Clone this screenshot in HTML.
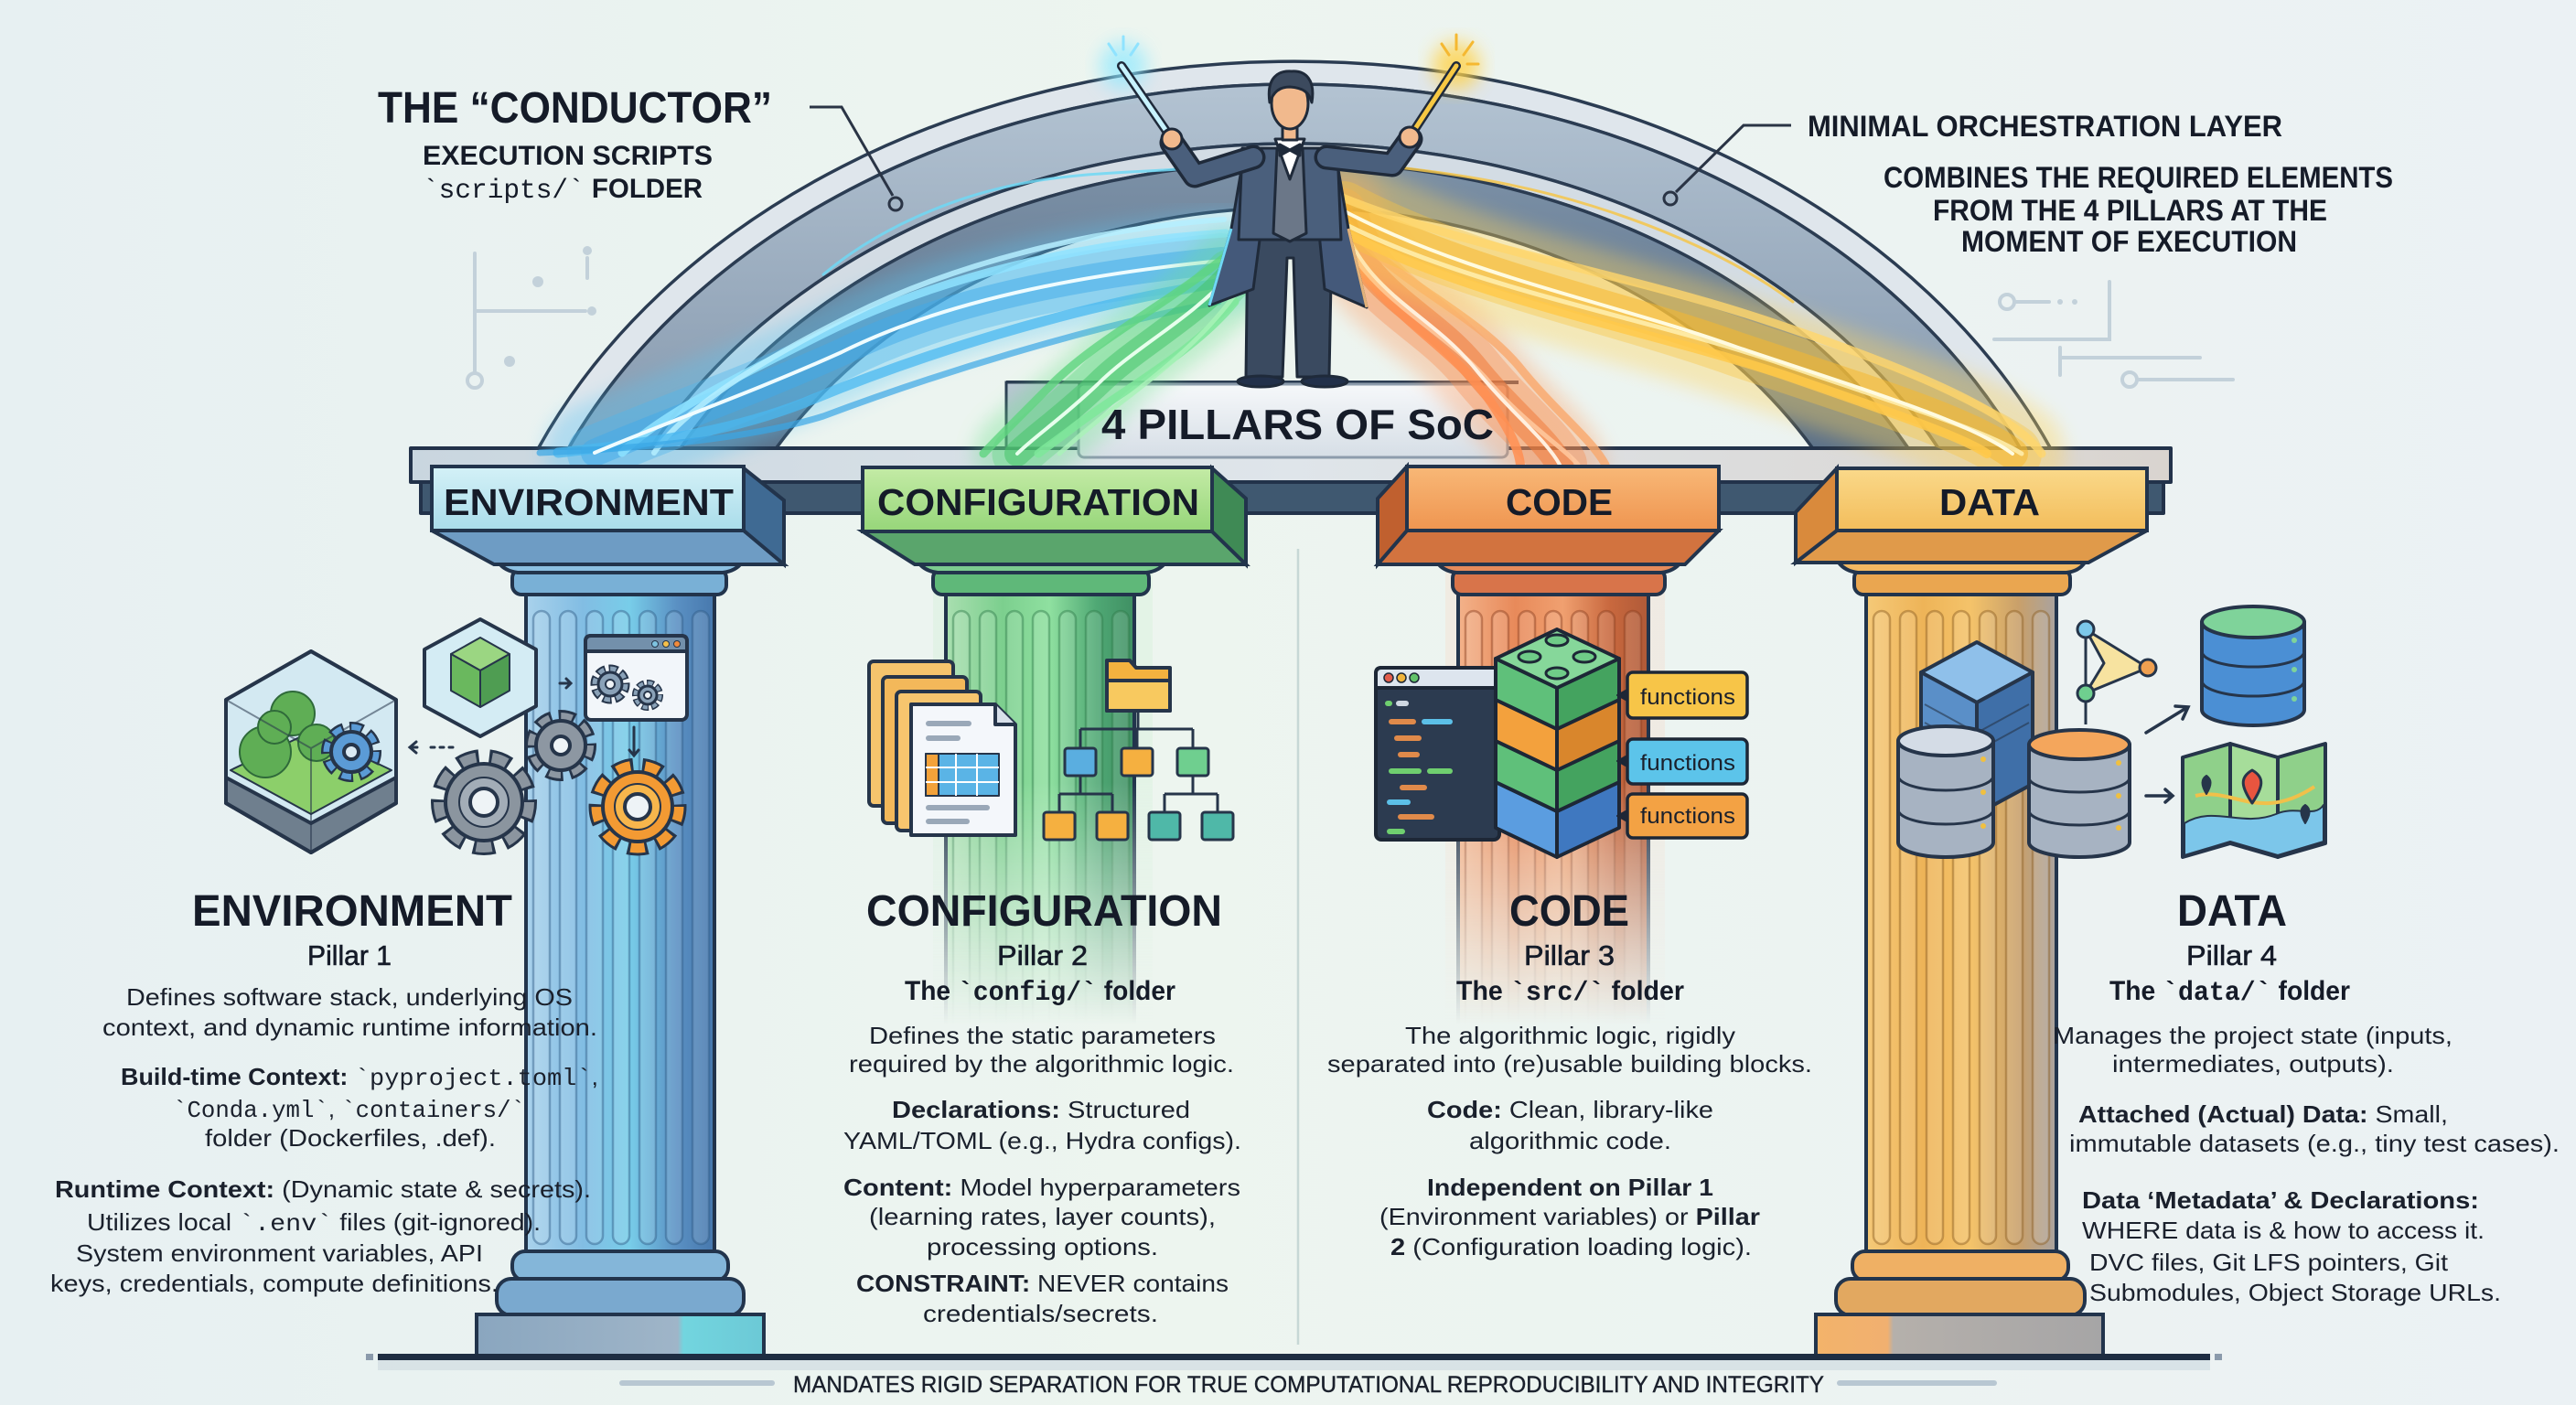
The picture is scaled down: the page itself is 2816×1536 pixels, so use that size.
<!DOCTYPE html>
<html><head><meta charset="utf-8"><style>
html,body{margin:0;padding:0;background:#ebf3f2}
svg{display:block}
.h{font-family:"Liberation Sans",sans-serif;font-weight:bold;fill:#151b28}
.b{font-family:"Liberation Sans",sans-serif;font-size:26px;fill:#1a202c}
.p{font-family:"Liberation Sans",sans-serif;font-size:31px;fill:#151b28;stroke:#151b28;stroke-width:.6}
.m{font-family:"Liberation Mono",monospace}
.bd{font-weight:bold}
</style></head><body>
<svg width="2816" height="1536" viewBox="0 0 2816 1536" xmlns="http://www.w3.org/2000/svg">
<defs>
<linearGradient id="bg" x1="0" y1="0" x2="1" y2="0"><stop offset="0" stop-color="#e7f0f2"/><stop offset=".45" stop-color="#edf5ef"/><stop offset="1" stop-color="#ebf1f4"/></linearGradient>
<linearGradient id="gEnv" x1="0" y1="0" x2="1" y2="0"><stop offset="0" stop-color="#a9d2ec"/><stop offset=".3" stop-color="#82bde3"/><stop offset=".55" stop-color="#78cde9"/><stop offset=".8" stop-color="#5a90c3"/><stop offset="1" stop-color="#4778ad"/></linearGradient>
<linearGradient id="gCfg" x1="0" y1="0" x2="1" y2="0"><stop offset="0" stop-color="#a9dfb0"/><stop offset=".3" stop-color="#7ccf8e"/><stop offset=".55" stop-color="#8fe0a0"/><stop offset=".8" stop-color="#4fa874"/><stop offset="1" stop-color="#3f8f63"/></linearGradient>
<linearGradient id="gCode" x1="0" y1="0" x2="1" y2="0"><stop offset="0" stop-color="#f3b28a"/><stop offset=".3" stop-color="#e88a5a"/><stop offset=".55" stop-color="#f0a070"/><stop offset=".8" stop-color="#c8683e"/><stop offset="1" stop-color="#b05a38"/></linearGradient>
<linearGradient id="gData" x1="0" y1="0" x2="1" y2="0"><stop offset="0" stop-color="#f5c978"/><stop offset=".3" stop-color="#eeb458"/><stop offset=".55" stop-color="#f4c36a"/><stop offset=".8" stop-color="#c9a06a"/><stop offset="1" stop-color="#a9a3a0"/></linearGradient>
<linearGradient id="vf" x1="0" y1="640" x2="0" y2="1120" gradientUnits="userSpaceOnUse"><stop offset="0" stop-color="#fff"/><stop offset=".45" stop-color="#fff"/><stop offset=".8" stop-color="#fff" stop-opacity=".35"/><stop offset="1" stop-color="#fff" stop-opacity="0"/></linearGradient>
<mask id="fade" maskUnits="userSpaceOnUse" x="0" y="0" width="2816" height="1536"><rect x="0" y="0" width="2816" height="1536" fill="url(#vf)"/></mask>
<linearGradient id="band2" x1="0" y1="0" x2="0" y2="1"><stop offset="0" stop-color="#b3c3d2"/><stop offset="1" stop-color="#8699ae"/></linearGradient>
<linearGradient id="band4" x1="0" y1="0" x2="0" y2="1"><stop offset="0" stop-color="#7b90a6"/><stop offset="1" stop-color="#5c7189"/></linearGradient>
<linearGradient id="beamTop" x1="0" y1="0" x2="1" y2="0"><stop offset="0" stop-color="#c9d6df"/><stop offset=".5" stop-color="#dfe5ea"/><stop offset="1" stop-color="#d9d4cf"/></linearGradient>
<linearGradient id="banner" x1="0" y1="0" x2="0" y2="1"><stop offset="0" stop-color="#f6f8fa"/><stop offset="1" stop-color="#d6dee6"/></linearGradient>
<linearGradient id="lEnv" x1="0" y1="0" x2="0" y2="1"><stop offset="0" stop-color="#d4f1f7"/><stop offset="1" stop-color="#a9dcea"/></linearGradient>
<linearGradient id="lCfg" x1="0" y1="0" x2="0" y2="1"><stop offset="0" stop-color="#c4eba6"/><stop offset="1" stop-color="#96d679"/></linearGradient>
<linearGradient id="lCode" x1="0" y1="0" x2="0" y2="1"><stop offset="0" stop-color="#f8b877"/><stop offset="1" stop-color="#ef9550"/></linearGradient>
<linearGradient id="lData" x1="0" y1="0" x2="0" y2="1"><stop offset="0" stop-color="#fad98a"/><stop offset="1" stop-color="#f3bd5b"/></linearGradient>
<linearGradient id="plEnv" x1="0" y1="0" x2="1" y2="0"><stop offset="0" stop-color="#8aa6bf"/><stop offset=".7" stop-color="#9fb5c8"/><stop offset=".72" stop-color="#72d5df"/><stop offset="1" stop-color="#6cc9d6"/></linearGradient>
<linearGradient id="plData" x1="0" y1="0" x2="1" y2="0"><stop offset="0" stop-color="#f3b36a"/><stop offset=".25" stop-color="#f1b070"/><stop offset=".27" stop-color="#b5b0ab"/><stop offset="1" stop-color="#a6a5a6"/></linearGradient>
<filter id="bl" x="-30%" y="-30%" width="160%" height="160%"><feGaussianBlur stdDeviation="10"/></filter>
<filter id="bs" x="-30%" y="-30%" width="160%" height="160%"><feGaussianBlur stdDeviation="3"/></filter>
</defs>

<rect width="2816" height="1536" fill="url(#bg)"/>

<!-- circuit decorations -->
<g stroke="#c3d1da" stroke-width="4" fill="none" stroke-linecap="round">
<path d="M519,277 V407"/><circle cx="519" cy="416" r="8"/><path d="M519,340 H640"/>
<path d="M642,282 V304"/>
<circle cx="2194" cy="330" r="8"/><path d="M2203,330 H2240"/>
<path d="M2306,308 V371 H2180"/><path d="M2252,391 H2405"/>
<circle cx="2328" cy="415" r="8"/><path d="M2337,415 H2441"/><path d="M2252,380 V410"/>
</g>
<g fill="#c3d1da"><circle cx="647" cy="340" r="5"/><circle cx="642" cy="274" r="5"/><circle cx="588" cy="308" r="6"/><circle cx="557" cy="395" r="6"/><circle cx="2252" cy="330" r="3"/><circle cx="2268" cy="330" r="3"/></g>

<!-- arch -->
<g stroke="#2b3c52" stroke-width="3.5" stroke-linejoin="round">
<path d="M588.5,490 A900,700 0 0 1 2241.5,490 L2208.4,490 A870,675 0 0 0 621.6,490 Z" fill="#dfe6ec"/>
<path d="M621.6,490 A870,675 0 0 1 2208.4,490 L2118.9,490 A790,610 0 0 0 711.1,490 Z" fill="url(#band2)"/>
<path d="M711.1,490 A790,610 0 0 1 2118.9,490 L2086,490 A760,590 0 0 0 744,490 Z" fill="#d3dce4"/>
<path d="M744,490 A760,590 0 0 1 2086,490 L1981.6,490 A660,540 0 0 0 848.4,490 Z" fill="url(#band4)"/>
</g>
<g fill="none" stroke-width="3" stroke-linecap="round">
<path d="M900,300 C960,250 1040,215 1120,200 C1200,185 1270,190 1330,180" stroke="#6fd8f5" opacity=".85"/>
<path d="M1500,180 C1580,188 1660,200 1740,225 C1820,250 1900,285 1960,330" stroke="#f5c54a" opacity=".85"/>
</g>

<!-- beam -->
<g stroke="#22324a" stroke-width="4" stroke-linejoin="round">
<rect x="449" y="490" width="1924" height="37" fill="url(#beamTop)"/>
<rect x="460" y="527" width="1905" height="34" fill="#3f5870"/>
</g>

<!-- banner -->
<path d="M1100,418 H1660" stroke="#2b3c52" stroke-width="4"/>
<rect x="1100" y="418" width="80" height="72" fill="#b9c6d2" stroke="#2b3c52" stroke-width="3"/>
<rect x="1179" y="420" width="469" height="80" rx="6" fill="url(#banner)" stroke="#8d9cac" stroke-width="3"/>

<!-- streams -->
<g fill="none" stroke-linecap="round">
<path d="M1335,285 C1180,300 1030,330 920,385 C820,430 720,465 650,495" stroke="#5cc8f5" stroke-width="110" opacity=".35" filter="url(#bl)"/>
<path d="M1335,285 C1180,300 1030,330 920,385 C820,430 720,465 650,495" stroke="#4fb6ee" stroke-width="60" opacity=".4"/>
<path d="M1335,285 C1180,300 1030,330 920,385 C820,430 720,465 650,495" stroke="#3fa9ea" stroke-width="30" opacity=".5"/>
<path d="M1340,255 C1180,265 1020,305 900,365 C800,415 720,455 680,495" stroke="#8fe3ff" stroke-width="9" opacity=".85"/>
<path d="M1338,240 C1190,250 1040,290 930,345 C830,395 750,445 715,495" stroke="#b5efff" stroke-width="6" opacity=".85"/>
<path d="M1330,310 C1170,335 1000,390 880,440 C790,475 700,485 610,495" stroke="#4ab8f0" stroke-width="11" opacity=".75"/>
<path d="M1332,330 C1180,360 1020,410 900,455 C820,480 700,490 590,495" stroke="#3aa7e6" stroke-width="7" opacity=".7"/>
<path d="M1335,285 C1180,300 1030,330 920,385 C820,430 720,465 650,495" stroke="#effcff" stroke-width="4"/>

<path d="M1345,300 C1300,350 1240,380 1200,420 C1160,458 1130,478 1112,496" stroke="#6be08a" stroke-width="95" opacity=".35" filter="url(#bl)"/>
<path d="M1345,300 C1300,350 1240,380 1200,420 C1160,458 1130,478 1112,496" stroke="#5ad47c" stroke-width="55" opacity=".35"/>
<path d="M1345,300 C1300,350 1240,380 1200,420 C1160,458 1130,478 1112,496" stroke="#45c46a" stroke-width="28" opacity=".55"/>
<path d="M1350,330 C1300,390 1220,430 1170,470 C1150,485 1140,492 1135,496" stroke="#7ee89a" stroke-width="9" opacity=".85"/>
<path d="M1340,280 C1280,330 1200,370 1150,420 C1110,460 1090,480 1075,496" stroke="#5fd47f" stroke-width="9" opacity=".8"/>
<path d="M1355,315 C1310,380 1250,420 1200,460 C1175,480 1165,490 1158,496" stroke="#a9f2b8" stroke-width="5" opacity=".85"/>
<path d="M1345,300 C1300,350 1240,380 1200,420 C1160,458 1130,478 1112,496" stroke="#e6ffec" stroke-width="4"/>

<path d="M1465,235 C1490,320 1560,340 1610,400 C1650,450 1690,480 1705,508" stroke="#ff9a5a" stroke-width="100" opacity=".35" filter="url(#bl)"/>
<path d="M1465,235 C1490,320 1560,340 1610,400 C1650,450 1690,480 1705,508" stroke="#f5894a" stroke-width="60" opacity=".35"/>
<path d="M1465,235 C1490,320 1560,340 1610,400 C1650,450 1690,480 1705,508" stroke="#f07a3a" stroke-width="30" opacity=".55"/>
<path d="M1470,270 C1520,350 1590,380 1630,440 C1650,470 1660,490 1662,508" stroke="#ff8f52" stroke-width="10" opacity=".85"/>
<path d="M1458,220 C1500,300 1600,330 1660,400 C1700,450 1740,480 1755,508" stroke="#f9a86b" stroke-width="9" opacity=".8"/>
<path d="M1462,250 C1500,330 1580,360 1630,420 C1670,465 1710,490 1725,508" stroke="#ffc9a0" stroke-width="5" opacity=".85"/>
<path d="M1465,235 C1490,320 1560,340 1610,400 C1650,450 1690,480 1705,508" stroke="#fff0e0" stroke-width="4"/>

<path d="M1468,230 C1600,300 1760,330 1900,380 C2050,430 2150,460 2200,496" stroke="#ffd45a" stroke-width="115" opacity=".38" filter="url(#bl)"/>
<path d="M1468,230 C1600,300 1760,330 1900,380 C2050,430 2150,460 2200,496" stroke="#f9c443" stroke-width="64" opacity=".38"/>
<path d="M1468,230 C1600,300 1760,330 1900,380 C2050,430 2150,460 2200,496" stroke="#f5b830" stroke-width="34" opacity=".55"/>
<path d="M1472,255 C1620,330 1800,360 1950,410 C2080,455 2150,480 2172,496" stroke="#ffc94a" stroke-width="10" opacity=".85"/>
<path d="M1465,215 C1600,270 1780,300 1930,350 C2080,400 2200,450 2232,496" stroke="#ffd66b" stroke-width="9" opacity=".8"/>
<path d="M1470,245 C1610,315 1790,345 1940,395 C2070,440 2170,470 2210,496" stroke="#fff0b0" stroke-width="5" opacity=".85"/>
<path d="M1468,230 C1600,300 1760,330 1900,380 C2050,430 2150,460 2200,496" stroke="#fffbe0" stroke-width="4"/>
</g>

<!-- banner text -->
<text class="h" x="1204" y="480" font-size="46" textLength="429" lengthAdjust="spacingAndGlyphs">4 PILLARS OF SoC</text>

<!-- wand glows -->
<circle cx="1228" cy="72" r="26" fill="#8fe9ff" opacity=".7" filter="url(#bl)"/>
<circle cx="1592" cy="72" r="26" fill="#ffd24a" opacity=".8" filter="url(#bl)"/>
<g stroke-width="3" stroke-linecap="round">
<path d="M1212,48 L1220,60 M1228,40 V54 M1244,48 L1236,60" stroke="#8fe3ff"/>
<path d="M1576,48 L1584,60 M1592,38 V54 M1610,46 L1600,60 M1616,70 H1604" stroke="#f5b830"/>
</g>

<!-- conductor -->
<g stroke="#1f2a3a" stroke-width="3" stroke-linejoin="round">
<line x1="1281" y1="152" x2="1226" y2="72" stroke="#1f2a3a" stroke-width="10" stroke-linecap="round"/>
<line x1="1281" y1="152" x2="1226" y2="72" stroke="#c8f3ff" stroke-width="5" stroke-linecap="round"/>
<line x1="1541" y1="150" x2="1592" y2="72" stroke="#1f2a3a" stroke-width="10" stroke-linecap="round"/>
<line x1="1541" y1="150" x2="1592" y2="72" stroke="#f7c843" stroke-width="5" stroke-linecap="round"/>
<path d="M1364,255 L1362,412 L1402,412 L1407,282 L1414,282 L1418,412 L1453,412 L1456,255 Z" fill="#3a4a60"/>
<ellipse cx="1378" cy="417" rx="25" ry="6" fill="#22304a"/>
<ellipse cx="1448" cy="417" rx="25" ry="6" fill="#22304a"/>
<path d="M1360,168 L1346,250 L1322,334 L1370,316 L1378,255 Z" fill="#44597a"/>
<path d="M1460,168 L1474,250 L1494,336 L1448,316 L1442,255 Z" fill="#44597a"/>
<path d="M1358,162 L1462,162 L1466,262 L1354,262 Z" fill="#4a5f7c"/>
<path d="M1396,162 L1424,162 L1428,255 L1410,264 L1392,255 Z" fill="#6b7788"/>
<path d="M1394,152 L1426,152 L1410,196 Z" fill="#ffffff"/>
<path d="M1399,158 L1410,164 L1421,158 L1421,170 L1410,164 L1399,170 Z" fill="#1f2a3a"/>
<path d="M1370,172 L1306,192 L1281,156" fill="none" stroke="#1f2a3a" stroke-width="27" stroke-linecap="round"/>
<path d="M1370,172 L1306,192 L1281,156" fill="none" stroke="#4a5f7c" stroke-width="20" stroke-linecap="round"/>
<path d="M1450,172 L1522,180 L1542,152" fill="none" stroke="#1f2a3a" stroke-width="27" stroke-linecap="round"/>
<path d="M1450,172 L1522,180 L1542,152" fill="none" stroke="#4a5f7c" stroke-width="20" stroke-linecap="round"/>
<circle cx="1281" cy="152" r="11" fill="#f1b98d"/>
<circle cx="1541" cy="150" r="11" fill="#f1b98d"/>
<rect x="1402" y="135" width="16" height="18" fill="#f1b98d"/>
<ellipse cx="1410" cy="113" rx="20" ry="28" fill="#f1b98d"/>
<path d="M1388,112 C1384,84 1398,77 1412,78 C1428,77 1438,88 1434,112 C1431,101 1425,96 1410,95 C1398,95 1392,101 1388,112 Z" fill="#3c4a5e"/>
</g>
<path d="M1346,250 L1322,334" stroke="#6fd8f5" stroke-width="3"/>
<path d="M1474,250 L1494,336" stroke="#e2b27a" stroke-width="3"/>

<!-- faint columns -->
<rect x="1020" y="560" width="240" height="560" fill="#d2f0d8" opacity=".35" mask="url(#fade)"/>
<rect x="1580" y="560" width="240" height="560" fill="#f7dccb" opacity=".35" mask="url(#fade)"/>
<path d="M1419,600 V1470" stroke="#c7d8d6" stroke-width="2.5"/>

<!-- ENV pillar -->
<g stroke="#22344c" stroke-width="4">
<rect x="575" y="640" width="206" height="735" fill="url(#gEnv)"/>
<g fill="#ffffff" fill-opacity=".12" stroke="#2e5a86" stroke-opacity=".45" stroke-width="2.5">
<rect x="583" y="668" width="18" height="692" rx="9"/><rect x="612" y="668" width="18" height="692" rx="9"/><rect x="641" y="668" width="18" height="692" rx="9"/><rect x="670" y="668" width="18" height="692" rx="9"/><rect x="699" y="668" width="18" height="692" rx="9"/><rect x="728" y="668" width="18" height="692" rx="9"/><rect x="757" y="668" width="18" height="692" rx="9"/>
</g>
<rect x="560" y="1368" width="236" height="32" rx="14" fill="#84b6d9"/>
<rect x="543" y="1398" width="270" height="40" rx="16" fill="#7aa9cf"/>
<rect x="521" y="1437" width="314" height="45" fill="url(#plEnv)"/>
<rect x="560" y="622" width="234" height="28" rx="10" fill="#79b0d6"/>
<path d="M538,588 C538,612 548,624 566,626 L790,626 C808,624 818,612 818,588 Z" fill="#8cc0e2"/>
<polygon points="472,580 813,580 857,617 540,617" fill="#6e9cc4"/>
<polygon points="813,512 857,547 857,617 813,580" fill="#3f6a93"/>
<rect x="472" y="510" width="341" height="70" fill="url(#lEnv)"/>
</g>
<text class="h" x="485" y="563" font-size="41" textLength="317" lengthAdjust="spacingAndGlyphs">ENVIRONMENT</text>

<!-- CONFIG pillar -->
<g stroke="#22344c" stroke-width="4">
<g mask="url(#fade)">
<rect x="1034" y="640" width="206" height="560" fill="url(#gCfg)"/>
<g fill="#ffffff" fill-opacity=".12" stroke="#2f7a4a" stroke-opacity=".45" stroke-width="2.5">
<rect x="1042" y="668" width="18" height="520" rx="9"/><rect x="1071" y="668" width="18" height="520" rx="9"/><rect x="1100" y="668" width="18" height="520" rx="9"/><rect x="1129" y="668" width="18" height="520" rx="9"/><rect x="1158" y="668" width="18" height="520" rx="9"/><rect x="1187" y="668" width="18" height="520" rx="9"/><rect x="1216" y="668" width="18" height="520" rx="9"/>
</g>
</g>
<rect x="1020" y="622" width="236" height="28" rx="10" fill="#5fb879"/>
<path d="M997,588 C997,612 1007,624 1025,626 L1253,626 C1271,624 1281,612 1281,588 Z" fill="#7ccc8f"/>
<polygon points="943,581 1325,581 1362,617 1000,617" fill="#5aa56c"/>
<polygon points="1325,512 1362,545 1362,617 1325,581" fill="#3f8a55"/>
<rect x="943" y="511" width="382" height="70" fill="url(#lCfg)"/>
</g>
<text class="h" x="959" y="563" font-size="41" textLength="352" lengthAdjust="spacingAndGlyphs">CONFIGURATION</text>

<!-- CODE pillar -->
<g stroke="#22344c" stroke-width="4">
<g mask="url(#fade)">
<rect x="1594" y="640" width="208" height="560" fill="url(#gCode)"/>
<g fill="#ffffff" fill-opacity=".12" stroke="#8a3f20" stroke-opacity=".45" stroke-width="2.5">
<rect x="1602" y="668" width="18" height="520" rx="9"/><rect x="1631" y="668" width="18" height="520" rx="9"/><rect x="1660" y="668" width="18" height="520" rx="9"/><rect x="1689" y="668" width="18" height="520" rx="9"/><rect x="1718" y="668" width="18" height="520" rx="9"/><rect x="1747" y="668" width="18" height="520" rx="9"/><rect x="1776" y="668" width="18" height="520" rx="9"/>
</g>
</g>
<rect x="1588" y="622" width="232" height="28" rx="10" fill="#d8744a"/>
<path d="M1564,588 C1564,612 1574,624 1592,626 L1816,626 C1834,624 1844,612 1844,588 Z" fill="#e58b5c"/>
<polygon points="1538,580 1879,580 1842,617 1506,617" fill="#d2733f"/>
<polygon points="1538,510 1506,545 1506,617 1538,580" fill="#c0602f"/>
<rect x="1538" y="510" width="341" height="70" fill="url(#lCode)"/>
</g>
<text class="h" x="1646" y="563" font-size="41" textLength="117" lengthAdjust="spacingAndGlyphs">CODE</text>

<!-- DATA pillar -->
<g stroke="#22344c" stroke-width="4">
<rect x="2040" y="640" width="208" height="735" fill="url(#gData)"/>
<g fill="#ffffff" fill-opacity=".12" stroke="#8a5a20" stroke-opacity=".45" stroke-width="2.5">
<rect x="2048" y="668" width="18" height="692" rx="9"/><rect x="2077" y="668" width="18" height="692" rx="9"/><rect x="2106" y="668" width="18" height="692" rx="9"/><rect x="2135" y="668" width="18" height="692" rx="9"/><rect x="2164" y="668" width="18" height="692" rx="9"/><rect x="2193" y="668" width="18" height="692" rx="9"/><rect x="2222" y="668" width="18" height="692" rx="9"/>
</g>
<rect x="2025" y="1368" width="236" height="32" rx="14" fill="#efb064"/>
<rect x="2007" y="1398" width="272" height="40" rx="16" fill="#e2a860"/>
<rect x="1985" y="1437" width="314" height="45" fill="url(#plData)"/>
<rect x="2027" y="622" width="236" height="28" rx="10" fill="#eaa650"/>
<path d="M2003,588 C2003,612 2013,624 2031,626 L2259,626 C2277,624 2285,612 2285,588 Z" fill="#f2b862"/>
<polygon points="2008,580 2347,580 2283,615 1963,615" fill="#e09a4a"/>
<polygon points="2008,512 1963,560 1963,615 2008,580" fill="#d98a3c"/>
<rect x="2008" y="512" width="339" height="68" fill="url(#lData)"/>
</g>
<text class="h" x="2120" y="563" font-size="41" textLength="110" lengthAdjust="spacingAndGlyphs">DATA</text>

<!-- ENV icons -->
<g stroke="#26354a" stroke-width="4" stroke-linejoin="round">
<polygon points="340,712 433,765 433,878 340,932 247,878 247,765" fill="#cfe8f2" fill-opacity=".85"/>
<polygon points="247,850 340,900 433,850 433,878 340,932 247,878" fill="#6f7f8e"/>
<polygon points="252,842 340,800 428,842 340,890" fill="#8ccf6a" stroke-width="2"/>
<g fill="#5fae55" stroke="#2f6a3a" stroke-width="2"><circle cx="290" cy="822" r="28"/><circle cx="320" cy="780" r="24"/><circle cx="346" cy="812" r="20"/><circle cx="300" cy="795" r="18"/></g>
<g stroke-width="2" opacity=".55" fill="none"><path d="M247,765 L340,818 L433,765 M340,818 V932"/></g>
<circle cx="384" cy="822" r="26" fill="none" stroke="#26354a" stroke-width="14" stroke-dasharray="14 6.42" stroke-dashoffset="2"/>
<circle cx="384" cy="822" r="26" fill="none" stroke="#5b9bd6" stroke-width="9" stroke-dasharray="10 10.42"/>
<circle cx="384" cy="822" r="22" fill="#5b9bd6"/><circle cx="384" cy="822" r="8" fill="#dbeaf4"/>
<polygon points="340,712 433,765 433,878 340,932 247,878 247,765" fill="none"/>

<polygon points="525,677 586,710 586,772 525,805 464,772 464,710" fill="#d4ecf4"/>
<polygon points="525,697 557,715 525,733 493,715" fill="#9bd682" stroke-width="2"/>
<polygon points="493,715 525,733 525,773 493,755" fill="#6ab85e" stroke-width="2"/>
<polygon points="525,733 557,715 557,755 525,773" fill="#4f9d52" stroke-width="2"/>

<rect x="640" y="695" width="111" height="92" rx="6" fill="#f2f6fa"/>
<path d="M640,712 V701 Q640,695 646,695 H745 Q751,695 751,701 V712 Z" fill="#7390ab"/>
<circle cx="716" cy="704" r="3.5" fill="#7fc3e0" stroke-width="1"/><circle cx="728" cy="704" r="3.5" fill="#f5c04a" stroke-width="1"/><circle cx="740" cy="704" r="3.5" fill="#f08a3c" stroke-width="1"/>
<circle cx="667" cy="748" r="16" fill="none" stroke="#26354a" stroke-width="11" stroke-dasharray="9 3.57" stroke-dashoffset="1.5"/>
<circle cx="667" cy="748" r="16" fill="none" stroke="#8aa2b8" stroke-width="7" stroke-dasharray="6 6.57"/>
<circle cx="667" cy="748" r="13" fill="#8aa2b8" stroke-width="3"/><circle cx="667" cy="748" r="5" fill="#eef3f6" stroke-width="2"/>
<circle cx="708" cy="760" r="12.5" fill="none" stroke="#26354a" stroke-width="9" stroke-dasharray="7 2.8" stroke-dashoffset="1.1"/>
<circle cx="708" cy="760" r="12.5" fill="none" stroke="#8aa2b8" stroke-width="6" stroke-dasharray="4.8 5"/>
<circle cx="708" cy="760" r="10" fill="#8aa2b8" stroke-width="3"/><circle cx="708" cy="760" r="4" fill="#eef3f6" stroke-width="2"/>

<circle cx="613" cy="815" r="31" fill="none" stroke="#26354a" stroke-width="16" stroke-dasharray="17 7.35" stroke-dashoffset="2.5"/>
<circle cx="613" cy="815" r="31" fill="none" stroke="#8d97a2" stroke-width="10" stroke-dasharray="12 12.35"/>
<circle cx="613" cy="815" r="27" fill="#8d97a2"/><circle cx="613" cy="815" r="10" fill="#eef3f6"/>

<circle cx="529" cy="877" r="48" fill="none" stroke="#26354a" stroke-width="20" stroke-dasharray="22.5 11" stroke-dashoffset="3"/>
<circle cx="529" cy="877" r="48" fill="none" stroke="#8b959f" stroke-width="14" stroke-dasharray="16.5 17"/>
<circle cx="529" cy="877" r="42" fill="#8b959f"/><circle cx="529" cy="877" r="27" fill="#a3adb7" stroke-width="2"/><circle cx="529" cy="877" r="15" fill="#eef3f6"/>

<circle cx="697" cy="882" r="44" fill="none" stroke="#26354a" stroke-width="19" stroke-dasharray="21 9.72" stroke-dashoffset="3"/>
<circle cx="697" cy="882" r="44" fill="none" stroke="#f39a33" stroke-width="13" stroke-dasharray="15 15.72"/>
<circle cx="697" cy="882" r="38" fill="#f39a33"/><circle cx="697" cy="882" r="25" fill="#f7b64c" stroke-width="2"/><circle cx="697" cy="882" r="14" fill="#eef3f6"/>
</g>
<g stroke="#26354a" stroke-width="3" fill="none" stroke-linecap="round">
<path d="M495,817 H470" stroke-dasharray="4 6"/><path d="M456,817 L448,817 M455,811 L448,817 L455,823"/>
<path d="M612,747 H624 M619,742 L624,747 L619,752"/>
<path d="M693,795 V826 M688,820 L693,826 L698,820"/>
</g>

<!-- CONFIG icons -->
<g stroke="#26354a" stroke-width="4" stroke-linejoin="round">
<rect x="950" y="723" width="92" height="158" rx="5" fill="#f5c46d"/>
<rect x="965" y="740" width="92" height="160" rx="5" fill="#f3b85a"/>
<rect x="980" y="756" width="92" height="152" rx="5" fill="#f7c56e"/>
<path d="M996,770 L1088,770 L1110,792 L1110,913 L996,913 Z" fill="#f4f7fb"/>
<path d="M1088,770 L1088,792 L1110,792" fill="#d8e0ea"/>
<g fill="#9aa8b8" stroke="none"><rect x="1012" y="788" width="50" height="6" rx="3"/><rect x="1012" y="804" width="38" height="6" rx="3"/><rect x="1012" y="880" width="70" height="6" rx="3"/><rect x="1012" y="895" width="48" height="6" rx="3"/></g>
<rect x="1012" y="824" width="80" height="46" fill="#5ab4e6" stroke-width="2"/>
<rect x="1012" y="824" width="14" height="46" fill="#f3a23a" stroke-width="2"/>
<path d="M1012,839 H1092 M1012,855 H1092 M1045,824 V870 M1068,824 V870" stroke="#ffffff" stroke-width="2"/>
<path d="M1210,722 L1235,722 L1242,730 L1279,730 L1279,777 L1210,777 Z" fill="#f3b23f"/>
<path d="M1210,744 L1279,744 L1279,777 L1210,777 Z" fill="#f8c95f"/>
</g>
<g stroke="#26354a" stroke-width="3" fill="none">
<path d="M1244,777 V797 M1181,797 H1304 M1181,797 V818 M1243,797 V818 M1304,797 V818"/>
<path d="M1181,848 V868 M1158,868 H1216 M1158,868 V888 M1216,868 V888"/>
<path d="M1304,848 V868 M1273,868 H1331 M1273,868 V888 M1331,868 V888"/>
</g>
<g stroke="#26354a" stroke-width="3">
<rect x="1164" y="818" width="34" height="30" rx="3" fill="#5aaee0"/><rect x="1226" y="818" width="34" height="30" rx="3" fill="#f5b040"/><rect x="1287" y="818" width="34" height="30" rx="3" fill="#6fcf8f"/>
<rect x="1141" y="888" width="34" height="30" rx="3" fill="#f5b040"/><rect x="1199" y="888" width="34" height="30" rx="3" fill="#f5b040"/>
<rect x="1256" y="888" width="34" height="30" rx="3" fill="#4fb8a8"/><rect x="1314" y="888" width="34" height="30" rx="3" fill="#4fb8a8"/>
</g>

<!-- CODE icons -->
<g stroke="#1d2736" stroke-width="4" stroke-linejoin="round">
<rect x="1504" y="730" width="135" height="188" rx="6" fill="#2c3b50"/>
<path d="M1504,752 V736 Q1504,730 1510,730 H1633 Q1639,730 1639,736 V752 Z" fill="#dde5ee"/>
<circle cx="1518" cy="741" r="5" fill="#e25c4b" stroke-width="1.5"/><circle cx="1532" cy="741" r="5" fill="#f0b43c" stroke-width="1.5"/><circle cx="1546" cy="741" r="5" fill="#62c26a" stroke-width="1.5"/>
</g>
<g stroke="none">
<rect x="1514" y="766" width="8" height="6" rx="3" fill="#6fcf6f"/><rect x="1526" y="766" width="14" height="6" rx="3" fill="#cfd8e2"/>
<rect x="1518" y="786" width="30" height="6" rx="3" fill="#e08a4a"/><rect x="1554" y="786" width="34" height="6" rx="3" fill="#5cc0e8"/>
<rect x="1524" y="804" width="30" height="6" rx="3" fill="#e08a4a"/>
<rect x="1528" y="822" width="24" height="6" rx="3" fill="#e08a4a"/>
<rect x="1518" y="840" width="36" height="6" rx="3" fill="#6fcf6f"/><rect x="1560" y="840" width="28" height="6" rx="3" fill="#6fcf6f"/>
<rect x="1530" y="858" width="30" height="6" rx="3" fill="#e08a4a"/>
<rect x="1516" y="874" width="26" height="6" rx="3" fill="#5cc0e8"/>
<rect x="1528" y="890" width="40" height="6" rx="3" fill="#e08a4a"/>
<rect x="1516" y="906" width="20" height="6" rx="3" fill="#6fcf6f"/>
</g>
<g stroke="#1d2736" stroke-width="4" stroke-linejoin="round">
<polygon points="1635,855 1702,887 1702,937 1635,905" fill="#5b9de0"/><polygon points="1702,887 1770,855 1770,905 1702,937" fill="#3f78c0"/>
<polygon points="1635,810 1702,842 1702,887 1635,855" fill="#5fc07a"/><polygon points="1702,842 1770,810 1770,855 1702,887" fill="#44a35f"/>
<polygon points="1635,765 1702,797 1702,842 1635,810" fill="#f3a13d"/><polygon points="1702,797 1770,765 1770,810 1702,842" fill="#d9862c"/>
<polygon points="1635,720 1702,752 1702,797 1635,765" fill="#5fc07a"/><polygon points="1702,752 1770,720 1770,765 1702,797" fill="#44a35f"/>
<polygon points="1635,720 1702,688 1770,720 1702,752" fill="#86d79a"/>
<g fill="#6fcc88" stroke-width="3"><ellipse cx="1702" cy="700" rx="12" ry="6"/><ellipse cx="1672" cy="718" rx="12" ry="6"/><ellipse cx="1732" cy="718" rx="12" ry="6"/><ellipse cx="1702" cy="736" rx="12" ry="6"/></g>
<rect x="1779" y="735" width="131" height="50" rx="6" fill="#f7c548" stroke-width="3.5"/>
<rect x="1779" y="808" width="131" height="49" rx="6" fill="#5cc4ea" stroke-width="3.5"/>
<rect x="1779" y="868" width="131" height="48" rx="6" fill="#f3a244" stroke-width="3.5"/>
<polygon points="1779,754 1768,760 1779,766" fill="#1d2736" stroke-width="2"/>
<polygon points="1779,826 1768,832 1779,838" fill="#1d2736" stroke-width="2"/>
<polygon points="1779,886 1768,892 1779,898" fill="#1d2736" stroke-width="2"/>
</g>
<g class="b" font-size="24">
<text x="1793" y="770" textLength="104" lengthAdjust="spacingAndGlyphs" font-size="24">functions</text>
<text x="1793" y="842" textLength="104" lengthAdjust="spacingAndGlyphs" font-size="24">functions</text>
<text x="1793" y="900" textLength="104" lengthAdjust="spacingAndGlyphs" font-size="24">functions</text>
</g>

<!-- DATA icons -->
<g stroke="#26354a" stroke-width="4" stroke-linejoin="round">
<polygon points="2100,735 2161,702 2222,735 2161,768" fill="#8fc0ea"/>
<polygon points="2100,735 2161,768 2161,890 2100,857" fill="#5a8fc8"/>
<polygon points="2161,768 2222,735 2222,857 2161,890" fill="#3f6fa8"/>
<path d="M2104,770 L2157,799 M2104,790 L2157,819 M2104,810 L2157,839 M2165,799 L2218,770 M2165,819 L2218,790" stroke-width="2" opacity=".6" fill="none"/>
<path d="M2280,688 V792" fill="none" stroke-width="3"/>
<polygon points="2280,688 2348,730 2280,758 2300,725" fill="#f7e3a0" stroke-width="3"/>
<circle cx="2280" cy="688" r="9" fill="#7cc8ea" stroke-width="3"/><circle cx="2348" cy="730" r="9" fill="#f0a050" stroke-width="3"/><circle cx="2280" cy="758" r="9" fill="#6fcf8f" stroke-width="3"/>
<path d="M2075,810 V921 A52,16 0 0 0 2179,921 V810 Z" fill="#a7b3c2"/>
<ellipse cx="2127" cy="810" rx="52" ry="16" fill="#d4dce6"/>
<path d="M2075,848 A52,16 0 0 0 2179,848 M2075,885 A52,16 0 0 0 2179,885" fill="none" stroke-width="3"/>
<path d="M2218,814 V921 A55,16 0 0 0 2328,921 V814 Z" fill="#a7b3c2"/>
<ellipse cx="2273" cy="814" rx="55" ry="16" fill="#f4a65c"/>
<path d="M2218,850 A55,16 0 0 0 2328,850 M2218,886 A55,16 0 0 0 2328,886" fill="none" stroke-width="3"/>
<path d="M2407,680 V776 A56,17 0 0 0 2519,776 V680 Z" fill="#4b8fd4"/>
<ellipse cx="2463" cy="680" rx="56" ry="17" fill="#7fd39a"/>
<path d="M2407,712 A56,17 0 0 0 2519,712 M2407,744 A56,17 0 0 0 2519,744" fill="none" stroke-width="3"/>
<polygon points="2386,828 2438,813 2438,922 2386,937" fill="#8fd08a"/>
<polygon points="2438,813 2490,828 2490,937 2438,922" fill="#a6dd9a"/>
<polygon points="2490,828 2542,813 2542,922 2490,937" fill="#8fd08a"/>
<path d="M2388,900 C2420,880 2450,905 2488,890 C2510,880 2530,895 2540,880 V920 L2490,935 L2438,920 L2388,935 Z" fill="#7cc6ea" stroke-width="2"/>
<path d="M2400,870 C2440,860 2470,900 2530,860" fill="none" stroke="#f1c04a" stroke-width="4"/>
<path d="M2462,878 C2450,860 2448,850 2462,842 C2476,850 2474,860 2462,878 Z" fill="#e8553f" stroke-width="3"/>
<path d="M2412,868 C2406,858 2406,852 2412,848 C2418,852 2418,858 2412,868 Z" fill="#26354a" stroke-width="2"/>
<path d="M2520,900 C2514,890 2514,884 2520,880 C2526,884 2526,890 2520,900 Z" fill="#26354a" stroke-width="2"/>
</g>
<g fill="#f0c040" stroke="none"><circle cx="2168" cy="830" r="3"/><circle cx="2168" cy="866" r="3"/><circle cx="2168" cy="903" r="3"/><circle cx="2316" cy="834" r="3"/><circle cx="2316" cy="870" r="3"/><circle cx="2316" cy="905" r="3"/><circle cx="2508" cy="700" r="3" fill="#7fd39a"/><circle cx="2508" cy="732" r="3" fill="#7fd39a"/><circle cx="2508" cy="764" r="3" fill="#7fd39a"/></g>
<g stroke="#26354a" stroke-width="3.5" fill="none" stroke-linecap="round">
<path d="M2346,801 L2390,774 M2378,772 L2392,773 L2386,786"/>
<path d="M2346,870 H2374 M2367,863 L2375,870 L2367,877"/>
</g>

<!-- leader lines -->
<g stroke="#2a3445" stroke-width="3" fill="none">
<path d="M885,117 H920 L976,214"/><circle cx="979" cy="223" r="7"/>
<path d="M1958,137 H1906 L1832,210"/><circle cx="1826" cy="217" r="7"/>
</g>

<!-- header texts -->
<text class="h" x="413" y="134" font-size="48" textLength="431" lengthAdjust="spacingAndGlyphs">THE “CONDUCTOR”</text>
<text class="h" x="462" y="180" font-size="30" textLength="317" lengthAdjust="spacingAndGlyphs">EXECUTION SCRIPTS</text>
<text class="h" x="462" y="216" font-size="30" textLength="306" lengthAdjust="spacingAndGlyphs"><tspan class="m" font-weight="normal">`scripts/`</tspan> FOLDER</text>
<text class="h" x="1976" y="149" font-size="32" textLength="519" lengthAdjust="spacingAndGlyphs">MINIMAL ORCHESTRATION LAYER</text>
<text class="h" x="2059" y="205" font-size="32" textLength="557" lengthAdjust="spacingAndGlyphs">COMBINES THE REQUIRED ELEMENTS</text>
<text class="h" x="2113" y="241" font-size="32" textLength="431" lengthAdjust="spacingAndGlyphs">FROM THE 4 PILLARS AT THE</text>
<text class="h" x="2144" y="275" font-size="32" textLength="367" lengthAdjust="spacingAndGlyphs">MOMENT OF EXECUTION</text>

<!-- ENV text -->
<text class="h" x="210" y="1012" font-size="48" textLength="350" lengthAdjust="spacingAndGlyphs">ENVIRONMENT</text>
<text class="p" x="336" y="1055" textLength="92" lengthAdjust="spacingAndGlyphs">Pillar 1</text>
<text class="b" x="138" y="1099" textLength="488" lengthAdjust="spacingAndGlyphs">Defines software stack, underlying OS</text>
<text class="b" x="112" y="1132" textLength="541" lengthAdjust="spacingAndGlyphs">context, and dynamic runtime information.</text>
<text class="b" x="132" y="1186" textLength="522" lengthAdjust="spacingAndGlyphs"><tspan class="bd">Build-time Context: </tspan><tspan class="m">`pyproject.toml`</tspan>,</text>
<text class="b" x="189" y="1221" textLength="385" lengthAdjust="spacingAndGlyphs"><tspan class="m">`Conda.yml`</tspan>, <tspan class="m">`containers/`</tspan></text>
<text class="b" x="224" y="1253" textLength="318" lengthAdjust="spacingAndGlyphs">folder (Dockerfiles, .def).</text>
<text class="b" x="60" y="1309" textLength="586" lengthAdjust="spacingAndGlyphs"><tspan class="bd">Runtime Context:</tspan> (Dynamic state &amp; secrets).</text>
<text class="b" x="95" y="1345" textLength="496" lengthAdjust="spacingAndGlyphs">Utilizes local <tspan class="m">`.env`</tspan> files (git-ignored).</text>
<text class="b" x="83" y="1379" textLength="445" lengthAdjust="spacingAndGlyphs">System environment variables, API</text>
<text class="b" x="55" y="1412" textLength="490" lengthAdjust="spacingAndGlyphs">keys, credentials, compute definitions.</text>

<!-- CONFIG text -->
<text class="h" x="947" y="1012" font-size="48" textLength="389" lengthAdjust="spacingAndGlyphs">CONFIGURATION</text>
<text class="p" x="1090" y="1055" textLength="99" lengthAdjust="spacingAndGlyphs">Pillar 2</text>
<text class="h" x="989" y="1093" font-size="30" textLength="296" lengthAdjust="spacingAndGlyphs">The <tspan class="m">`config/`</tspan> folder</text>
<text class="b" x="950" y="1141" textLength="379" lengthAdjust="spacingAndGlyphs">Defines the static parameters</text>
<text class="b" x="928" y="1172" textLength="421" lengthAdjust="spacingAndGlyphs">required by the algorithmic logic.</text>
<text class="b" x="975" y="1222" textLength="326" lengthAdjust="spacingAndGlyphs"><tspan class="bd">Declarations:</tspan> Structured</text>
<text class="b" x="922" y="1256" textLength="435" lengthAdjust="spacingAndGlyphs">YAML/TOML (e.g., Hydra configs).</text>
<text class="b" x="922" y="1307" textLength="434" lengthAdjust="spacingAndGlyphs"><tspan class="bd">Content:</tspan> Model hyperparameters</text>
<text class="b" x="950" y="1339" textLength="379" lengthAdjust="spacingAndGlyphs">(learning rates, layer counts),</text>
<text class="b" x="1013" y="1372" textLength="253" lengthAdjust="spacingAndGlyphs">processing options.</text>
<text class="b" x="936" y="1412" textLength="407" lengthAdjust="spacingAndGlyphs"><tspan class="bd">CONSTRAINT:</tspan> NEVER contains</text>
<text class="b" x="1009" y="1445" textLength="257" lengthAdjust="spacingAndGlyphs">credentials/secrets.</text>

<!-- CODE text -->
<text class="h" x="1650" y="1012" font-size="48" textLength="131" lengthAdjust="spacingAndGlyphs">CODE</text>
<text class="p" x="1666" y="1055" textLength="99" lengthAdjust="spacingAndGlyphs">Pillar 3</text>
<text class="h" x="1592" y="1093" font-size="30" textLength="249" lengthAdjust="spacingAndGlyphs">The <tspan class="m">`src/`</tspan> folder</text>
<text class="b" x="1536" y="1141" textLength="361" lengthAdjust="spacingAndGlyphs">The algorithmic logic, rigidly</text>
<text class="b" x="1451" y="1172" textLength="530" lengthAdjust="spacingAndGlyphs">separated into (re)usable building blocks.</text>
<text class="b" x="1560" y="1222" textLength="313" lengthAdjust="spacingAndGlyphs"><tspan class="bd">Code:</tspan> Clean, library-like</text>
<text class="b" x="1606" y="1256" textLength="221" lengthAdjust="spacingAndGlyphs">algorithmic code.</text>
<text class="b bd" x="1560" y="1307" textLength="313" lengthAdjust="spacingAndGlyphs" font-weight="bold">Independent on Pillar 1</text>
<text class="b" x="1508" y="1339" textLength="416" lengthAdjust="spacingAndGlyphs">(Environment variables) or <tspan class="bd">Pillar</tspan></text>
<text class="b" x="1520" y="1372" textLength="395" lengthAdjust="spacingAndGlyphs"><tspan class="bd">2</tspan> (Configuration loading logic).</text>

<!-- DATA text -->
<text class="h" x="2380" y="1012" font-size="48" textLength="120" lengthAdjust="spacingAndGlyphs">DATA</text>
<text class="p" x="2390" y="1055" textLength="99" lengthAdjust="spacingAndGlyphs">Pillar 4</text>
<text class="h" x="2306" y="1093" font-size="30" textLength="263" lengthAdjust="spacingAndGlyphs">The <tspan class="m">`data/`</tspan> folder</text>
<text class="b" x="2244" y="1141" textLength="437" lengthAdjust="spacingAndGlyphs">Manages the project state (inputs,</text>
<text class="b" x="2309" y="1172" textLength="308" lengthAdjust="spacingAndGlyphs">intermediates, outputs).</text>
<text class="b" x="2272" y="1227" textLength="404" lengthAdjust="spacingAndGlyphs"><tspan class="bd">Attached (Actual) Data:</tspan> Small,</text>
<text class="b" x="2262" y="1259" textLength="536" lengthAdjust="spacingAndGlyphs">immutable datasets (e.g., tiny test cases).</text>
<text class="b" x="2276" y="1321" textLength="434" lengthAdjust="spacingAndGlyphs" font-weight="bold">Data ‘Metadata’ &amp; Declarations:</text>
<text class="b" x="2276" y="1354" textLength="440" lengthAdjust="spacingAndGlyphs">WHERE data is &amp; how to access it.</text>
<text class="b" x="2284" y="1389" textLength="392" lengthAdjust="spacingAndGlyphs">DVC files, Git LFS pointers, Git</text>
<text class="b" x="2284" y="1422" textLength="450" lengthAdjust="spacingAndGlyphs">Submodules, Object Storage URLs.</text>

<!-- ground -->
<rect x="413" y="1486" width="2003" height="12" fill="#d3dee4" opacity=".8"/>
<rect x="413" y="1480" width="2003" height="7" fill="#1e2d42"/>
<rect x="400" y="1480" width="8" height="7" fill="#8a9aab"/><rect x="2421" y="1480" width="8" height="7" fill="#8a9aab"/>
<g stroke="#b8c7d2" stroke-width="6" stroke-linecap="round"><path d="M680,1512 H844"/><path d="M2011,1512 H2180"/></g>
<text class="b" x="867" y="1522" font-size="25" textLength="1127" lengthAdjust="spacingAndGlyphs" style="font-size:25px;stroke:#1a202c;stroke-width:.4">MANDATES RIGID SEPARATION FOR TRUE COMPUTATIONAL REPRODUCIBILITY AND INTEGRITY</text>
</svg>
</body></html>
